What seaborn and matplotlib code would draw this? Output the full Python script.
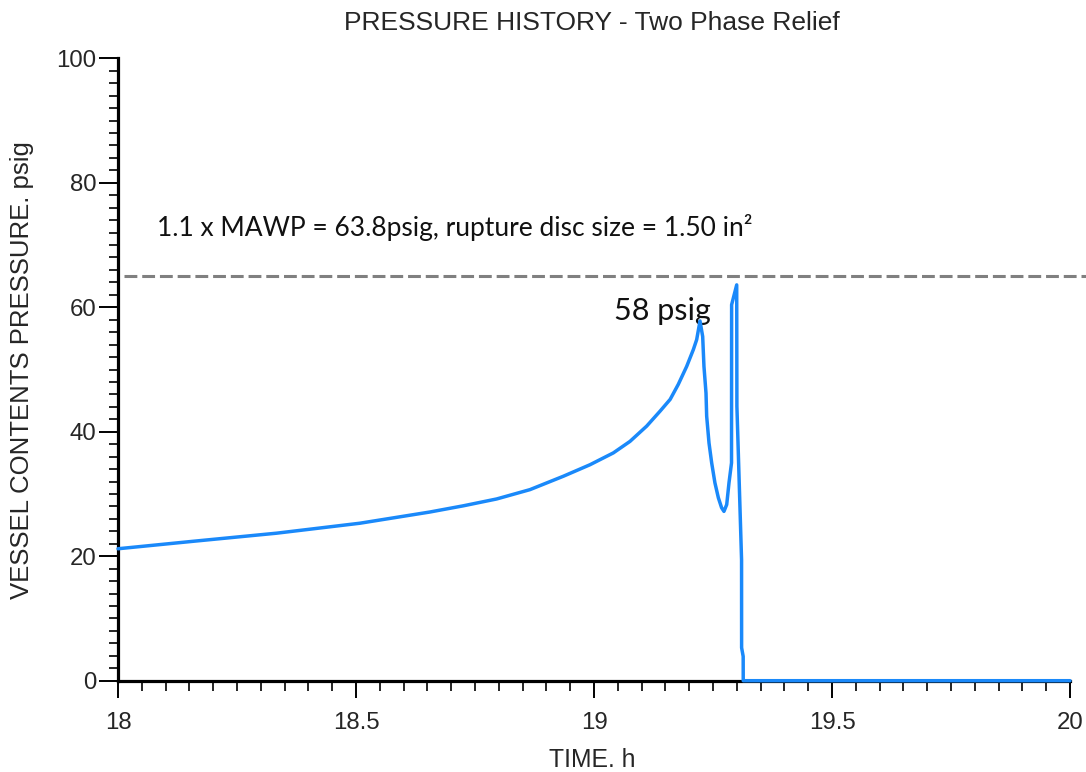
import pandas as pd
import numpy as np
import seaborn as sns
import matplotlib.pyplot as plt
from matplotlib.ticker import MultipleLocator

# pressure history
time_h = [18.000, 18.158, 18.333, 18.508, 18.655, 18.7255, 18.7955, 18.8655, 18.9356, 18.9916,
          19.0406, 19.0756, 19.1106, 19.1387, 19.160, 19.177, 19.1947, 19.2087, 19.2157, 19.2227,
          19.2283, 19.231, 19.2353, 19.2367, 19.2416, 19.2472, 19.254, 19.2612, 19.268, 19.273,
          19.2788, 19.2836, 19.2889, 19.2891, 19.2998, 19.3002, 19.3100, 19.3101, 19.3134, 19.3135,
          20.000]
pressure_psig = [21.2, 22.4, 23.7, 25.3, 27.1, 28.1, 29.2, 30.7, 32.85, 34.7,
                 36.6, 38.45, 40.9, 43.3, 45.2, 47.6, 50.5, 53.2, 54.8, 57.8,
                 55.3, 50.5, 46.2, 42.5, 38.2, 35.0, 31.8, 29.4, 27.8, 27.2,
                 28.3, 31.8, 35.0, 60.4, 63.6, 44.1, 19.4, 5.3, 3.9, 0.0,
                 0.0]

mawp_line = 65.0
x_ticks = [18, 18.5, 19, 19.5, 20]
x_tick_labels = ["18", "18.5", "19", "19.5", "20"]
y_ticks = [0, 20, 40, 60, 80, 100]

title = "PRESSURE HISTORY - Two Phase Relief"
x_label = "TIME. h"
y_label = "VESSEL CONTENTS PRESSURE. psig"
mawp_text = "1.1 x MAWP = 63.8psig, rupture disc size = 1.50 in\u00b2"
peak_text = "58 psig"

df = pd.DataFrame({"time": time_h, "pressure": pressure_psig})

sns.set_style("ticks")
plt.rcParams['font.family'] = ['Liberation Sans', 'DejaVu Sans']

fig = plt.figure(figsize=(10.86, 7.72), dpi=100)
ax = fig.add_axes([0.10866, 0.11826, 0.87661, 0.80622])

sns.lineplot(data=df, x="time", y="pressure", sort=False, estimator=None,
             color="#1a89fa", linewidth=2.5, ax=ax, clip_on=False, zorder=5)

# dashed 1.1 x MAWP line (runs a bit past the axes on the right)
ax.plot([18.0126, 20.034], [mawp_line, mawp_line], color="#808080", linewidth=2.2,
        dashes=(4.2, 1.6), clip_on=False, zorder=3)

ax.text(18.082, 72.8, mawp_text, fontsize=19, family=['Lato', 'DejaVu Sans'],
        ha="left", va="center", color="#111111")
ax.text(19.143, 59.4, peak_text, fontsize=22, family=['Lato', 'DejaVu Sans'],
        ha="center", va="center", color="#111111")

ax.set_xlim(18, 20)
ax.set_ylim(0, 100)
ax.set_xticks(x_ticks)
ax.set_xticklabels(x_tick_labels)
ax.set_yticks(y_ticks)
ax.xaxis.set_minor_locator(MultipleLocator(0.05))
ax.yaxis.set_minor_locator(MultipleLocator(2))

ax.tick_params(axis="x", which="major", direction="out", length=12.5, width=1.4,
               pad=10, labelsize=17.3, color="black")
ax.tick_params(axis="x", which="minor", direction="out", length=7, width=1.2, color="black")
ax.tick_params(axis="y", which="major", direction="out", length=13.5, width=1.4,
               pad=2, labelsize=17.3, color="black")
ax.tick_params(axis="y", which="minor", direction="out", length=6.5, width=1.2, color="black")

sns.despine(ax=ax)
for side in ["left", "bottom"]:
    ax.spines[side].set_linewidth(2.3)
    ax.spines[side].set_color("black")

ax.set_xlabel("")
ax.set_ylabel("")
fig.text(592 / 1086, 1 - 23 / 772, title, fontsize=19, ha="center", va="center")
fig.text(592 / 1086, 1 - 760 / 772, x_label, fontsize=17.8, ha="center", va="center")
fig.text(22 / 1086, 1 - 370 / 772, y_label, fontsize=18.5, ha="center", va="center",
         rotation=90)

fig.savefig("out.png", dpi=100, facecolor="white")
